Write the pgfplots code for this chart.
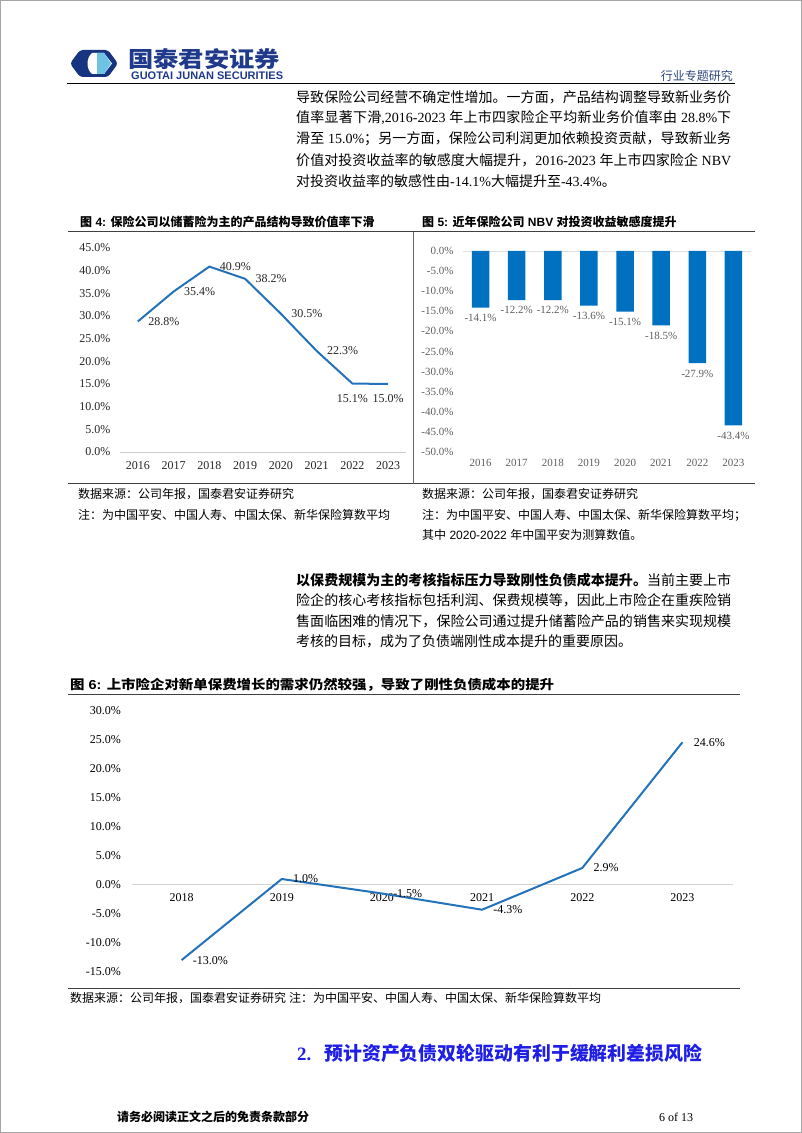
\documentclass[border=0pt]{standalone}
\usepackage{fontspec}
\usepackage{graphicx}
\usepackage{pgfplots}
\usepackage{pgfplotstable}
\pgfplotsset{compat=1.18}
\setmainfont{Liberation Serif}
\newfontfamily\cjkfont{Noto Sans CJK SC}
\newfontfamily\serifface{Liberation Serif}
\newfontfamily\sansface{Liberation Sans}
\def\latinface{\serifface}
\newcommand\fs[1]{\fontsize{#1}{#1}\selectfont}

\XeTeXinterchartokenstate=1
\newXeTeXintercharclass\CJKclass
\makeatletter
\def\setcjkrange#1#2{\count@=#1\relax\loop\XeTeXcharclass\count@=\CJKclass\relax\ifnum\count@<#2\relax\advance\count@ by 1\repeat}
\setcjkrange{"4E00}{"9FFF}
\setcjkrange{"3000}{"303F}
\setcjkrange{"FF00}{"FFEF}
\makeatother
\XeTeXinterchartoks 0 \CJKclass = {\cjkfont}
\XeTeXinterchartoks 4095 \CJKclass = {\cjkfont}
\XeTeXinterchartoks \CJKclass 0 = {\latinface}
\XeTeXinterchartoks \CJKclass 4095 = {\latinface}
\XeTeXinterchartoks \CJKclass \CJKclass = {\hskip 0pt plus 1pt\relax}

\definecolor{navy}{RGB}{31,58,138}
\definecolor{logonavy}{RGB}{22,52,128}
\definecolor{logolight}{RGB}{110,195,228}
\definecolor{hdrblue}{RGB}{45,70,120}
\definecolor{lineblue}{RGB}{36,114,186}
\definecolor{barblue}{RGB}{0,112,192}
\definecolor{headblue}{RGB}{30,30,230}
\definecolor{tickgray}{RGB}{95,95,95}

\pgfplotstableread{
x y
0 28.8
1 35.4
2 40.9
3 38.2
4 30.5
5 22.3
6 15.1
7 15.0
}\tabA
\pgfplotstableread{
x y
0 -14.1
1 -12.2
2 -12.2
3 -13.6
4 -15.1
5 -18.5
6 -27.9
7 -43.4
}\tabB
\pgfplotstableread{
x y
0 -13.0
1 1.0
2 -1.5
3 -4.3
4 2.9
5 24.6
}\tabC

\begin{document}
\begin{tikzpicture}[x=1pt,y=1pt]
\useasboundingbox (0,0) rectangle (802,1133);
\fill[white] (0,0) rectangle (802,1133);
\draw[gray!70, line width=1pt] (0.5,0.5) rectangle (801.5,1132.5);

% ---- header ----
\fill[logonavy, rounded corners=3pt] (70,1133-63.5) -- (80,1133-50) -- (108,1133-50) -- (118,1133-63.5) -- (108,1133-77) -- (80,1133-77) -- cycle;
\fill[white] (92,1133-53) -- (104,1133-53) -- (112,1133-63.5) -- (104,1133-74) -- (92,1133-74) .. controls (86,1133-69) and (86,1133-58) .. (92,1133-53) -- cycle;
\fill[logolight] (97,1133-53) -- (104,1133-53) -- (111,1133-63.5) -- (104,1133-74) -- (97,1133-74) -- cycle;
\node[anchor=west, inner sep=0, text=navy] at (128,1133-59) {\scalebox{1.15}[1]{\fs{22}\bfseries 国泰君安证券}};
\node[anchor=west, inner sep=0, text=navy, font=\fs{11}\sansface\bfseries] at (131,1133-75.5) {GUOTAI JUNAN SECURITIES};
\node[anchor=east, inner sep=0, text=hdrblue, font=\fs{12}] at (733,1133-76) {行业专题研究};
\draw[black, line width=0.9pt] (67,1133-83) -- (735,1133-83);

% ---- paragraph 1 ----
\begin{scope}[every node/.style={anchor=west, inner sep=0, font=\fs{14}\latinface}]
\node at (296,1133-97) {\hbox to 435pt{导致保险公司经营不确定性增加。一方面，产品结构调整导致新业务价}};
\node at (296,1133-118) {\hbox to 435pt{值率显著下滑,2016-2023 年上市四家险企平均新业务价值率由 28.8\%下}};
\node at (296,1133-139) {\hbox to 435pt{滑至 15.0\%；另一方面，保险公司利润更加依赖投资贡献，导致新业务}};
\node at (296,1133-160) {\hbox to 435pt{价值对投资收益率的敏感度大幅提升，2016-2023 年上市四家险企 NBV}};
\node at (296,1133-181) {对投资收益率的敏感性由-14.1\%大幅提升至-43.4\%。};
\end{scope}

% ---- figure 4 / 5 titles and frame ----
\node[anchor=west, inner sep=0, font=\fs{12}\bfseries] at (80,1133-222) {\def\latinface{\sansface}\sansface 图 4: 保险公司以储蓄险为主的产品结构导致价值率下滑};
\node[anchor=west, inner sep=0, font=\fs{12}\bfseries] at (422,1133-222) {\def\latinface{\sansface}\sansface 图 5: 近年保险公司 NBV 对投资收益敏感度提升};
\draw[black!75, line width=0.9pt] (68,1133-231.7) -- (755,1133-231.7);
\draw[black!75, line width=0.9pt] (68,1133-483.7) -- (755,1133-483.7);
\draw[black!60, line width=0.6pt] (413,1133-231.7) -- (413,1133-483.7);

% ---- figure 4 ----
\begin{axis}[
  at={(120pt,681pt)}, anchor=south west, scale only axis,
  width=286pt, height=204pt,
  xmin=-0.5, xmax=7.5, ymin=0, ymax=45,
  axis x line*=bottom, axis y line*=left,
  x axis line style={draw=gray!40, line width=0.8pt},
  y axis line style={draw=none},
  xtick={0,...,7}, xticklabels={2016,2017,2018,2019,2020,2021,2022,2023},
  ytick={0,5,...,45},
  yticklabels={0.0\%,5.0\%,10.0\%,15.0\%,20.0\%,25.0\%,30.0\%,35.0\%,40.0\%,45.0\%},
  major tick length=0pt,
  tick label style={font=\fs{12}, text=black!85},
  yticklabel style={xshift=-6pt},
  xticklabel style={yshift=-6pt},
  clip=false,
]
\addplot[lineblue, line width=2pt, mark=none, line join=round] table[x=x,y=y]{\tabA};
\addplot[draw=none, mark=none, restrict x to domain=0:5, point meta=explicit symbolic,
  nodes near coords={\pgfplotspointmeta\%},
  nodes near coords style={anchor=west, xshift=7pt, font=\fs{12}, text=black!85}] table[x=x,y=y,meta=y]{\tabA};
\addplot[draw=none, mark=none, restrict x to domain=6:7, point meta=explicit symbolic,
  nodes near coords={\pgfplotspointmeta\%},
  nodes near coords style={anchor=north, yshift=-7pt, font=\fs{12}, text=black!85}] table[x=x,y=y,meta=y]{\tabA};
\end{axis}

% ---- figure 5 ----
\begin{axis}[
  at={(462.5pt,681pt)}, anchor=south west, scale only axis,
  width=289pt, height=201pt,
  xmin=-0.5, xmax=7.5, ymin=-50, ymax=0,
  axis x line*=bottom, axis y line*=left,
  axis line style={draw=none},
  ybar, bar width=17.5pt,
  xtick={0,...,7}, xticklabels={2016,2017,2018,2019,2020,2021,2022,2023},
  ytick={-50,-45,...,0},
  yticklabels={-50.0\%,-45.0\%,-40.0\%,-35.0\%,-30.0\%,-25.0\%,-20.0\%,-15.0\%,-10.0\%,-5.0\%,0.0\%},
  extra y ticks={0}, extra y tick labels={},
  extra y tick style={grid=major, major grid style={draw=gray!25, line width=0.8pt}},
  major tick length=0pt,
  tick label style={font=\fs{11}, text=tickgray},
  yticklabel style={xshift=-5.5pt},
  xticklabel style={yshift=-4pt},
  clip=false,
]
\addplot[fill=barblue, draw=none, point meta=explicit symbolic,
  nodes near coords={\pgfplotspointmeta\%},
  nodes near coords style={anchor=north, yshift=-3pt, font=\fs{11}, text=tickgray}] table[x=x,y=y,meta=y]{\tabB};
\end{axis}

% ---- notes 4/5 ----
\begin{scope}[every node/.style={anchor=west, inner sep=0, font=\fs{12}\latinface}]
\node at (78,1133-494) {数据来源：公司年报，国泰君安证券研究};
\node at (78,1133-515) {注：为中国平安、中国人寿、中国太保、新华保险算数平均};
\node at (422,1133-494) {数据来源：公司年报，国泰君安证券研究};
\node at (422,1133-515) {注：为中国平安、中国人寿、中国太保、新华保险算数平均；};
\node at (422,1133-535) {\def\latinface{\sansface}其中 2020-2022 年中国平安为测算数值。};
\end{scope}

% ---- paragraph 2 ----
\begin{scope}[every node/.style={anchor=west, inner sep=0, font=\fs{14}\latinface}]
\node at (296,1133-580) {\hbox to 435pt{\bfseries 以保费规模为主的考核指标压力导致刚性负债成本提升。\mdseries\cjkfont 当前主要上市}};
\node at (296,1133-600.5) {\hbox to 435pt{险企的核心考核指标包括利润、保费规模等，因此上市险企在重疾险销}};
\node at (296,1133-621) {\hbox to 435pt{售面临困难的情况下，保险公司通过提升储蓄险产品的销售来实现规模}};
\node at (296,1133-641.5) {考核的目标，成为了负债端刚性成本提升的重要原因。};
\end{scope}

% ---- figure 6 ----
\node[anchor=west, inner sep=0] at (70,1133-685) {\scalebox{1.11}[1]{\fs{13}\bfseries\def\latinface{\sansface}\sansface 图 6: 上市险企对新单保费增长的需求仍然较强，导致了刚性负债成本的提升}};
\draw[black!75, line width=0.9pt] (68,1133-694) -- (740,1133-694);
\draw[black!75, line width=0.9pt] (68,1133-988) -- (740,1133-988);

\begin{axis}[
  at={(131.5pt,161.3pt)}, anchor=south west, scale only axis,
  width=601pt, height=260.7pt,
  xmin=-0.5, xmax=5.5, ymin=-15, ymax=30,
  axis x line*=middle, axis y line*=left,
  x axis line style={draw=gray!35, line width=0.8pt},
  y axis line style={draw=none},
  xtick={0,...,5}, xticklabels={2018,2019,2020,2021,2022,2023},
  ytick={-15,-10,...,30},
  yticklabels={-15.0\%,-10.0\%,-5.0\%,0.0\%,5.0\%,10.0\%,15.0\%,20.0\%,25.0\%,30.0\%},
  major tick length=0pt,
  tick label style={font=\fs{12}, text=black},
  yticklabel style={xshift=-7pt},
  xticklabel style={yshift=-5pt},
  clip=false,
]
\addplot[lineblue, line width=2pt, mark=none, line join=round,
  point meta=explicit symbolic,
  nodes near coords={\pgfplotspointmeta\%},
  nodes near coords style={anchor=west, xshift=7pt, font=\fs{12}, text=black}] table[x=x,y=y,meta=y]{\tabC};
\end{axis}

\node[anchor=west, inner sep=0, font=\fs{12}\latinface] at (70,1133-998) {数据来源：公司年报，国泰君安证券研究 注：为中国平安、中国人寿、中国太保、新华保险算数平均};

% ---- section heading & footer ----
\node[anchor=west, inner sep=0, text=headblue, font=\fs{18.9}\bfseries] at (297,1133-1053) {2.\hspace{13pt}预计资产负债双轮驱动有利于缓解利差损风险};
\node[anchor=west, inner sep=0, font=\fs{12}\bfseries] at (117,1133-1117) {请务必阅读正文之后的免责条款部分};
\node[anchor=west, inner sep=0, font=\fs{12}\serifface] at (659,1133-1117) {6 of 13};
\end{tikzpicture}
\end{document}
